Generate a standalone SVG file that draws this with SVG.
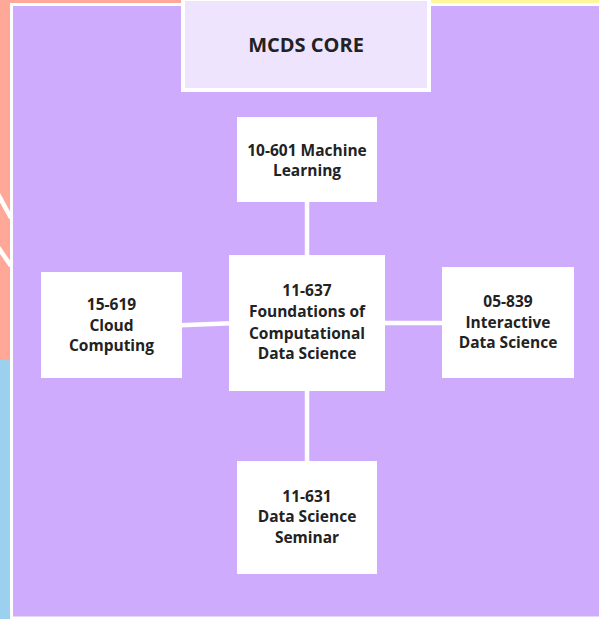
<svg xmlns="http://www.w3.org/2000/svg" width="599" height="619" viewBox="0 0 599 619">
<style>
.node{fill:#ffffff;}
.t{font-family:"Open Sans","Noto Sans","Liberation Sans",sans-serif;font-weight:700;font-size:15.5px;fill:#222222;text-anchor:middle;}
.title{font-size:20px;}
.conn{stroke:#ffffff;stroke-width:4.5;fill:none;}
</style>
<rect x="0" y="0" width="599" height="619" fill="#ffffff"/>
<rect x="0" y="0" width="200" height="360" fill="#FFA898"/>
<rect x="0" y="360" width="12" height="259" fill="#9BD1EE"/>
<rect x="420" y="0" width="179" height="10" fill="#FFF59B"/>
<g id="side-lines" class="conn">
<line x1="-2" y1="194" x2="11" y2="218"/>
<line x1="-2" y1="247" x2="11" y2="266"/>
</g>
<rect id="panel" x="11.5" y="4.5" width="590" height="613.5" fill="#CFABFE" stroke="#ffffff" stroke-width="3"/>
<g id="connectors" class="conn">
<line x1="307" y1="200" x2="307" y2="257"/>
<line x1="307" y1="389" x2="307" y2="463"/>
<line x1="180" y1="325.3" x2="231" y2="323.2"/>
<line x1="383" y1="323" x2="444" y2="323"/>
</g>
<g id="title">
<rect x="183" y="-1" width="246" height="91" fill="#EFE4FD" stroke="#ffffff" stroke-width="4"/>
<text class="t title" x="306" y="52">MCDS CORE</text>
</g>
<g id="n10601">
<rect class="node" x="237" y="117" width="140" height="85"/>
<text class="t" x="307" y="156">10-601 Machine</text>
<text class="t" x="307" y="176">Learning</text>
</g>
<g id="n15619">
<rect class="node" x="41" y="272" width="141" height="106"/>
<text class="t" x="111.5" y="310">15-619</text>
<text class="t" x="111.5" y="331">Cloud</text>
<text class="t" x="111.5" y="351">Computing</text>
</g>
<g id="n11637">
<rect class="node" x="229" y="255" width="156" height="136"/>
<text class="t" x="307" y="296">11-637</text>
<text class="t" x="307" y="317">Foundations of</text>
<text class="t" x="307" y="338.5">Computational</text>
<text class="t" x="307" y="359">Data Science</text>
</g>
<g id="n05839">
<rect class="node" x="442" y="267" width="132" height="111"/>
<text class="t" x="508" y="306.5">05-839</text>
<text class="t" x="508" y="327.5">Interactive</text>
<text class="t" x="508" y="348">Data Science</text>
</g>
<g id="n11631">
<rect class="node" x="237" y="461" width="140" height="113"/>
<text class="t" x="307" y="502">11-631</text>
<text class="t" x="307" y="522">Data Science</text>
<text class="t" x="307" y="543">Seminar</text>
</g>
</svg>
